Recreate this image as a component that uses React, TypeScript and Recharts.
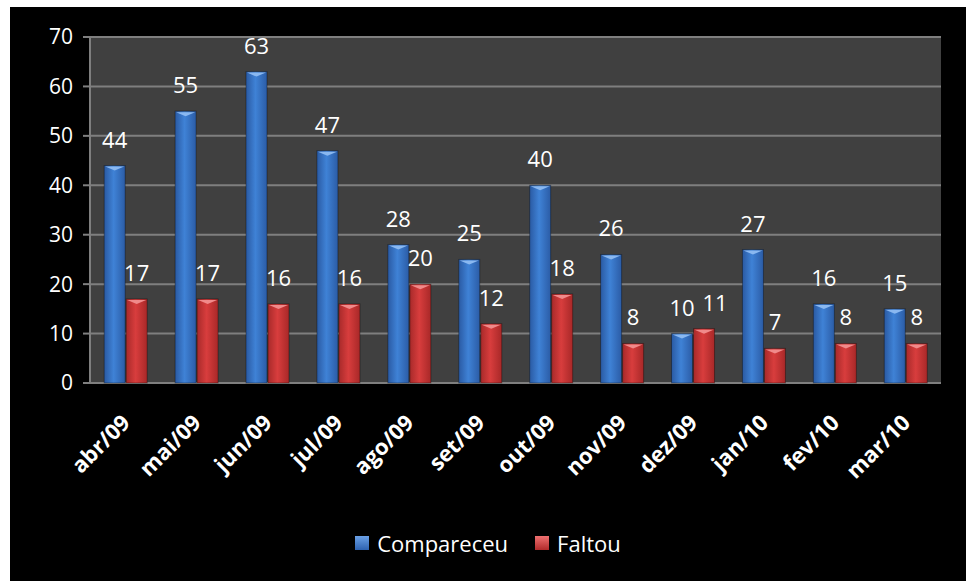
import React from 'react';
import { BarChart, Bar, XAxis, YAxis, CartesianGrid, Legend, LabelList } from 'recharts';

const months = ['abr/09', 'mai/09', 'jun/09', 'jul/09', 'ago/09', 'set/09', 'out/09', 'nov/09', 'dez/09', 'jan/10', 'fev/10', 'mar/10'];
const compareceu = [44, 55, 63, 47, 28, 25, 40, 26, 10, 27, 16, 15];
const faltou = [17, 17, 16, 16, 20, 12, 18, 8, 11, 7, 8, 8];
const yTicks = [0, 10, 20, 30, 40, 50, 60, 70];
const edgeTicks = [0, 1, 2, 3, 4, 5, 6, 7, 8, 9, 10, 11, 12];

const data = months.map((m, i) => ({ month: m, Compareceu: compareceu[i], Faltou: faltou[i] }));

const FONT = '"Open Sans", "Liberation Sans", sans-serif';
const GRID = '#7f7f7f';

const BevelBar = (props: any) => {
  const { x, y, width, height, fill, top } = props;
  if (!height || height <= 0) return null;
  const tip = Math.min(5, height);
  return (
    <g>
      <rect x={x} y={y} width={width} height={height} fill={fill} stroke="rgba(0,0,0,0.35)" strokeWidth={1} />
      <polygon points={`${x + 1},${y + 1} ${x + width - 1},${y + 1} ${x + width / 2},${y + tip}`} fill={top} />
    </g>
  );
};

const MonthTick = (props: any) => {
  const { x, y, payload } = props;
  const ax = x + 6;
  const ay = y + 33;
  return (
    <text
      x={ax}
      y={ay}
      transform={`rotate(-45, ${ax}, ${ay})`}
      textAnchor="end"
      fill="#fff"
      fontSize={22}
      fontWeight="bold"
      fontFamily={FONT}
    >
      {payload.value}
    </text>
  );
};

// red label is nudged right when it would collide with the blue one (as Excel does)
const FaltouLabel = (props: any) => {
  const { x, y, width, value, index } = props;
  const near = Math.abs(compareceu[index] - faltou[index]) <= 3;
  const cx = x + width / 2 + (near ? 11 : 0);
  return (
    <text x={cx} y={y - 18} textAnchor="middle" fill="#fff" fontSize={22} fontFamily={FONT}>
      {value}
    </text>
  );
};

const LegendContent = () => (
  <div style={{ display: 'flex', justifyContent: 'center', alignItems: 'center', fontFamily: FONT, fontSize: 22, color: '#fff' }}>
    <span style={{ display: 'inline-block', width: 14, height: 14, background: 'linear-gradient(#6aa0e6, #2d62b0)', marginRight: 8 }} />
    <span style={{ marginRight: 27 }}>Compareceu</span>
    <span style={{ display: 'inline-block', width: 14, height: 14, background: 'linear-gradient(#ee7070, #b02a2a)', marginRight: 8 }} />
    <span>Faltou</span>
  </div>
);

const App = () => {
  return (
    <div style={{ position: 'fixed', left: 0, top: 0, width: 966, height: 581, background: '#fff', overflow: 'hidden' }}>
      <div style={{ position: 'absolute', left: 10, top: 7, width: 956, height: 574, background: '#000' }}>
        <BarChart
          width={956}
          height={574}
          data={data}
          margin={{ top: 30, right: 25, left: 0, bottom: 108 }}
          barCategoryGap="20%"
          barGap={1}
        >
          <defs>
            <linearGradient id="gBlue" x1="0" y1="0" x2="1" y2="0">
              <stop offset="0%" stopColor="#2a5aa3" />
              <stop offset="45%" stopColor="#3f82d6" />
              <stop offset="100%" stopColor="#2b5ca6" />
            </linearGradient>
            <linearGradient id="gRed" x1="0" y1="0" x2="1" y2="0">
              <stop offset="0%" stopColor="#a82a2a" />
              <stop offset="45%" stopColor="#d83d3d" />
              <stop offset="100%" stopColor="#a82828" />
            </linearGradient>
          </defs>
          <CartesianGrid vertical={false} fill="#404040" stroke={GRID} strokeWidth={2} yAxisId="y" xAxisId="cat" />
          <XAxis
            xAxisId="edges"
            type="number"
            domain={[0, 12]}
            ticks={edgeTicks}
            allowDataOverflow
            height={0}
            tick={false}
            tickSize={7}
            tickLine={{ stroke: GRID, strokeWidth: 2 }}
            axisLine={{ stroke: GRID, strokeWidth: 2 }}
          />
          <XAxis
            xAxisId="cat"
            dataKey="month"
            height={90}
            axisLine={false}
            tickLine={false}
            interval={0}
            tick={<MonthTick />}
          />
          <YAxis
            yAxisId="y"
            width={80}
            domain={[0, 70]}
            ticks={yTicks}
            tickSize={7}
            tickMargin={10}
            tickLine={{ stroke: GRID, strokeWidth: 2 }}
            axisLine={{ stroke: GRID, strokeWidth: 2 }}
            tick={{ fill: '#fff', fontSize: 21, fontFamily: FONT }}
          />
          <Legend verticalAlign="middle" wrapperStyle={{ top: 521, left: 0, width: 956 }} content={<LegendContent />} />
          <Bar
            dataKey="Compareceu"
            xAxisId="cat"
            yAxisId="y"
            fill="url(#gBlue)"
            isAnimationActive={false}
            shape={(p: any) => <BevelBar {...p} top="#8ab8f0" />}
          >
            <LabelList dataKey="Compareceu" position="top" offset={18} fill="#fff" fontSize={22} fontFamily={FONT} />
          </Bar>
          <Bar
            dataKey="Faltou"
            xAxisId="cat"
            yAxisId="y"
            fill="url(#gRed)"
            isAnimationActive={false}
            shape={(p: any) => <BevelBar {...p} top="#f08a8a" />}
          >
            <LabelList dataKey="Faltou" content={<FaltouLabel />} />
          </Bar>
        </BarChart>
      </div>
    </div>
  );
};

export default App;
